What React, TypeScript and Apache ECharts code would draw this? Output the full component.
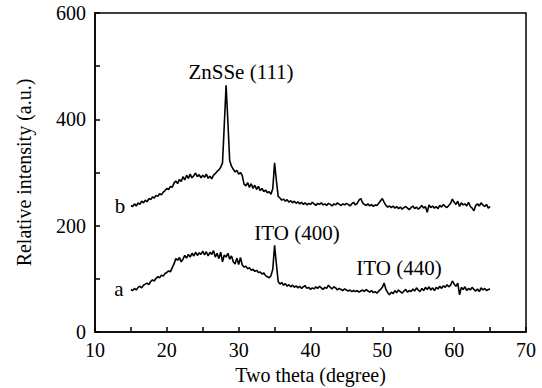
import React, { useEffect, useRef } from "react";
import * as echarts from "echarts";

// Sampling grid of the scans: 2θ from 15° to 65° in 0.25° steps
const thetaStart = 15;
const thetaStep = 0.25;

// Curve a (ITO substrate)
const curveA = [
  80, 78, 82, 79, 84,
  86, 83, 88, 90,
  92, 89, 95, 98,
  96, 101, 104, 102,
  107, 105, 110, 112,
  115, 113, 121, 128,
  138, 135, 140, 132,
  137, 144, 139, 146,
  141, 148, 143, 150,
  144, 149, 146, 152,
  145, 151, 143, 150,
  146, 153, 141, 148,
  138, 150, 132, 145,
  141, 148, 137, 143,
  132, 128, 139, 127,
  140, 126, 122, 124,
  119, 121, 116, 118,
  114, 116, 112, 113,
  109, 111, 106, 104,
  102, 106, 118, 163,
  128, 95, 90, 93,
  88, 91, 86, 89,
  85, 88, 84, 87,
  83, 86, 82, 85,
  87, 82, 84, 80,
  83, 81, 85, 82,
  86, 83, 80, 84,
  82, 88, 84, 81,
  85, 83, 79, 82,
  80, 78, 81, 79,
  77, 79, 76, 78,
  76, 78, 75, 77,
  79, 76, 80, 77,
  75, 78, 74, 76,
  73, 77, 80, 84,
  92, 80, 74, 70,
  75, 72, 78, 74,
  79, 76, 73, 77,
  80, 75, 78, 76,
  81, 77, 83, 79,
  76, 82, 78, 84,
  80, 85, 79, 83,
  78, 84, 81, 86,
  82, 87, 84, 89,
  85, 88, 96, 90,
  86, 92, 70, 84,
  80, 85, 78, 82,
  79, 84, 80, 77,
  81, 76, 83, 79,
  82, 78, 80, 81,
];

// Curve b (ZnSSe film on ITO)
const curveB = [
  238, 236, 241, 237, 243,
  240, 246, 243, 248,
  245, 251, 249, 254,
  252, 257, 255, 260,
  258, 263, 266, 270,
  268, 274, 272, 280,
  284, 279, 287, 283,
  292, 286, 295, 289,
  297, 290, 294, 299,
  292, 296, 290, 295,
  291, 297, 289, 293,
  288, 295, 298, 302,
  305, 310, 318, 390,
  464, 395, 322, 312,
  306, 301, 304, 297,
  300, 294, 278, 275,
  281, 272, 279, 270,
  276, 268, 274, 266,
  270, 264, 267, 262,
  264, 259, 270, 318,
  285, 255, 252, 248,
  250, 246, 249, 244,
  247, 243, 246, 242,
  245, 241, 244, 240,
  243, 239, 242, 240,
  244, 241, 238, 242,
  240, 243, 239, 241,
  238, 242, 240, 237,
  241, 239, 243, 240,
  238, 241, 239, 242,
  240, 237, 241, 244,
  239, 242, 248, 251,
  243, 240, 238, 241,
  237, 240, 236, 239,
  238, 242, 247, 251,
  244, 238, 235, 237,
  234, 237, 233, 236,
  232, 235, 231, 234,
  236, 233, 230, 234,
  237, 232, 235, 231,
  234, 238, 233, 236,
  225, 239, 234, 237,
  233, 236, 232, 238,
  235, 240, 236, 234,
  238, 242, 250, 244,
  240, 246, 236, 243,
  239, 241, 237, 244,
  236, 233, 228, 238,
  241, 237, 243, 239,
  236, 240, 233, 236,
];

const xTicks = [10, 20, 30, 40, 50, 60, 70];
const yTicks = [0, 200, 400, 600];

const toPairs = (ys: number[]) =>
  ys.map((y, i) => [thetaStart + i * thetaStep, y]);

const FONT = "'Liberation Serif', 'DejaVu Serif', serif";

export default function App() {
  const ref = useRef<HTMLDivElement>(null);
  useEffect(() => {
    document.body.style.margin = "0";
    if (!ref.current) return;
    const chart = echarts.init(ref.current, null, { renderer: "svg" });
    const textStyle = (t: string, x: number, y: number, size = 21) => ({
      type: "text",
      x,
      y,
      style: {
        text: t,
        fill: "#000",
        font: `${size}px ${FONT}`,
        textAlign: "center",
        textVerticalAlign: "middle",
      },
    });
    chart.setOption({
      animation: false,
      backgroundColor: "#fff",
      grid: {
        left: 95,
        right: 16,
        top: 13,
        bottom: 56,
        containLabel: false,
        outerBoundsMode: "none",
        show: true,
        borderColor: "#000",
        borderWidth: 1.5,
      },
      xAxis: {
        type: "value",
        min: 10,
        max: 70,
        interval: 5,
        name: "Two theta (degree)",
        nameLocation: "middle",
        nameGap: 33,
        nameTextStyle: { fontFamily: FONT, fontSize: 20, color: "#000" },
        axisLine: { lineStyle: { color: "#000", width: 1.5 } },
        axisTick: { inside: true, length: 5, lineStyle: { color: "#000", width: 1.5 } },
        splitLine: { show: false },
        axisLabel: {
          fontFamily: FONT,
          fontSize: 20,
          color: "#000",
          margin: 8,
          formatter: (v: number) => (xTicks.includes(v) ? String(v) : ""),
        },
      },
      yAxis: {
        type: "value",
        min: 0,
        max: 600,
        interval: 100,
        name: "Relative intensity (a.u.)",
        nameLocation: "middle",
        nameGap: 61,
        nameTextStyle: { fontFamily: FONT, fontSize: 20, color: "#000" },
        axisLine: { show: true, lineStyle: { color: "#000", width: 1.5 } },
        axisTick: { show: true, inside: true, length: 5, lineStyle: { color: "#000", width: 1.5 } },
        splitLine: { show: false },
        axisLabel: {
          fontFamily: FONT,
          fontSize: 20,
          color: "#000",
          margin: 9,
          formatter: (v: number) => (yTicks.includes(v) ? String(v) : ""),
        },
      },
      series: [
        {
          name: "a",
          type: "line",
          data: toPairs(curveA),
          showSymbol: false,
          lineStyle: { color: "#000", width: 1.6 },
        },
        {
          name: "b",
          type: "line",
          data: toPairs(curveB),
          showSymbol: false,
          lineStyle: { color: "#000", width: 1.6 },
        },
      ],
      graphic: [
        textStyle("ZnSSe (111)", 241, 72),
        textStyle("ITO (400)", 297, 233),
        textStyle("ITO (440)", 399, 268),
        textStyle("b", 120, 206),
        textStyle("a", 119, 289),
      ],
    });
    return () => chart.dispose();
  }, []);
  return <div ref={ref} style={{ width: 542, height: 388 }} />;
}
